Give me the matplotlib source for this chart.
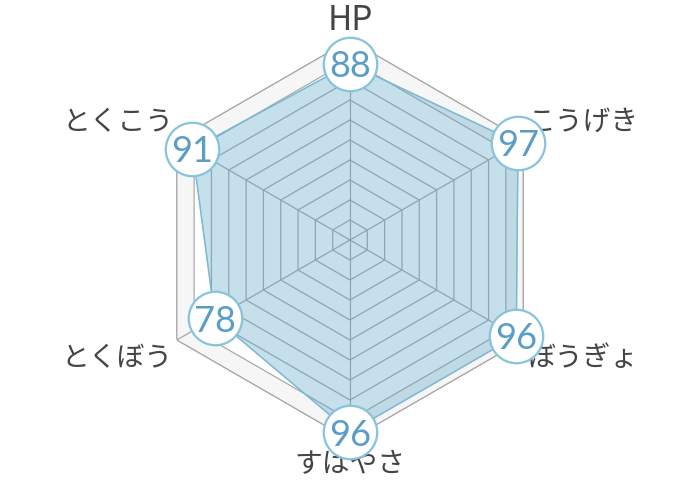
import numpy as np
import matplotlib
matplotlib.use("Agg")
import matplotlib.pyplot as plt

plt.rcParams['font.family'] = ['Noto Sans CJK JP', 'DejaVu Sans']

# ステータス
labels = ['HP', 'こうげき', 'ぼうぎょ', 'すはやさ', 'とくぼう', 'とくこう']
values = [88, 97, 96, 96, 78, 91]
rings = [10, 20, 30, 40, 50, 60, 70, 80, 90, 100]
r_max = 100

# label offsets from the outer vertex (pixels)
label_offsets = [(0, 19), (60, 18), (60, -18), (0, -24), (-60, -18), (-59, 18)]

n = len(labels)
angles = np.arange(n) * 2 * np.pi / n
closed = np.append(angles, angles[0])
vals_closed = np.append(values, values[0])

fig = plt.figure(figsize=(7, 4.8), dpi=100)
ax = fig.add_axes([150 / 700, 40 / 480, 400 / 700, 400 / 480], projection='polar')
ax.set_theta_offset(np.pi / 2)
ax.set_theta_direction(-1)
ax.set_ylim(0, r_max)
ax.grid(False)
ax.spines['polar'].set_visible(False)
ax.set_xticks([])
ax.set_yticks([])
ax.patch.set_alpha(0)

# outer band
ax.fill(closed, [r_max] * (n + 1), color='#f6f6f6', zorder=0)
ax.fill(closed, [rings[-2]] * (n + 1), color='white', zorder=0.5)

# grid rings + spokes
for r in rings:
    col = '#a0a0a0' if r == r_max else '#a8a8a8'
    ax.plot(closed, [r] * (n + 1), color=col, lw=0.9, zorder=1)
for a in angles:
    ax.plot([a, a], [0, r_max], color='#a8a8a8', lw=0.9, zorder=1)

# data
ax.fill(closed, vals_closed, color='#5ba4c7', alpha=0.35, zorder=2)
ax.plot(closed, vals_closed, color='#7ab8d4', lw=1.0, zorder=3)

ax.plot(angles, values, 'o', ms=38.5, mfc='white', mec='#86c3dc', mew=1.6,
        clip_on=False, zorder=5)
for a, v in zip(angles, values):
    ax.text(a, v, str(v), ha='center', va='center_baseline', fontsize=26,
            family=['Lato', 'DejaVu Sans'], color='#5a9ec6',
            zorder=6, clip_on=False)

for a, lab, (dx, dy) in zip(angles, labels, label_offsets):
    ax.annotate(lab, xy=(a, r_max), xytext=(dx, dy), textcoords='offset pixels',
                ha='center', va='center', fontsize=24 if lab == 'HP' else 20,
                color='#444444', annotation_clip=False)

fig.savefig('out.png', dpi=100)
